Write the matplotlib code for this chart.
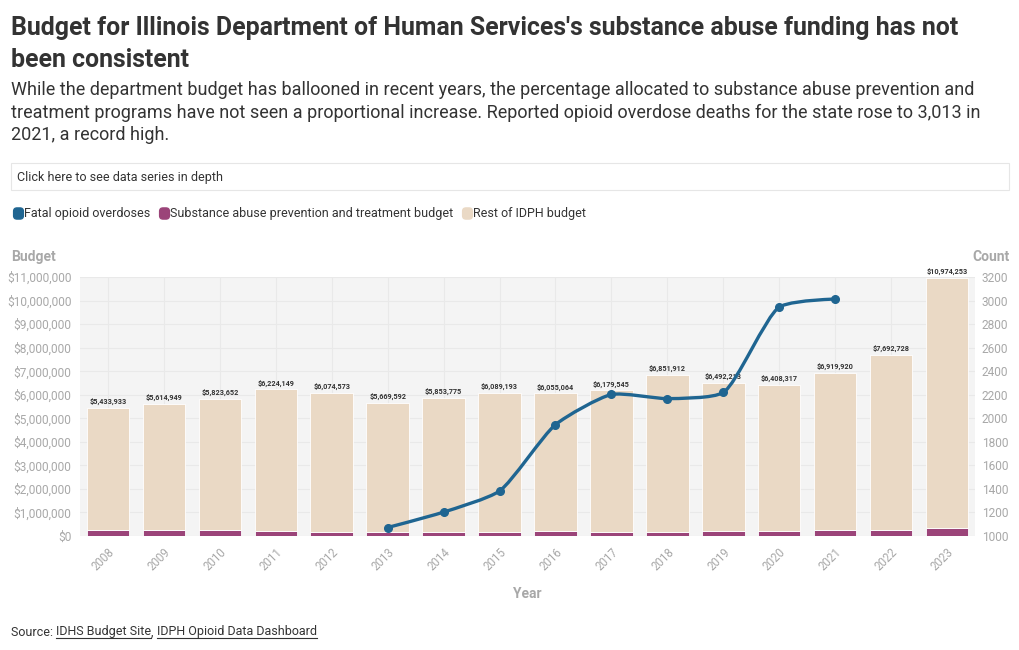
import matplotlib
matplotlib.use("Agg")
import matplotlib.pyplot as plt
from matplotlib.path import Path
from matplotlib.patches import PathPatch, FancyBboxPatch
from matplotlib.lines import Line2D
import numpy as np

plt.rcParams['font.family'] = ['Roboto', 'DejaVu Sans']

# data
years = [2008, 2009, 2010, 2011, 2012, 2013, 2014, 2015,
         2016, 2017, 2018, 2019, 2020, 2021, 2022, 2023]
total_budget = [5433933, 5614949, 5823652, 6224149, 6074573, 5669592, 5853775, 6089193,
                6055064, 6179545, 6851912, 6492213, 6408317, 6919920, 7692728, 10974253]
substance_budget = [265000, 262000, 262000, 215000, 160000, 185000, 175000, 175000,
                    212000, 172000, 185000, 198000, 198000, 240000, 255000, 355000]
rest_budget = [t - s for t, s in zip(total_budget, substance_budget)]

od_years = [2013, 2014, 2015, 2016, 2017, 2018, 2019, 2020, 2021]
overdoses = [1072, 1203, 1382, 1946, 2202, 2167, 2219, 2944, 3013]

BLUE = '#1f6591'
PURPLE = '#9b4479'
BEIGE = '#ead9c5'
GRAY = '#a8a8a8'
DARK = '#333333'
SMOOTHING = 0.6


def tangent(prev, this, nxt, smooth):
    # plotly style spline control points (pixel space)
    d1 = prev - this
    d2 = nxt - this
    d1a = np.hypot(*d1) ** 0.5
    d2a = np.hypot(*d2) ** 0.5
    num = (d2a * d2a * d1 - d1a * d1a * d2) * smooth
    den1 = 3 * d2a * (d1a + d2a)
    den2 = 3 * d1a * (d1a + d2a)
    return this + num / den1, this - num / den2


def spline_path(pts, smooth):
    n = len(pts)
    tans = [tangent(pts[i - 1], pts[i], pts[i + 1], smooth) for i in range(1, n - 1)]
    verts = [pts[0], tans[0][0], pts[1]]
    codes = [Path.MOVETO, Path.CURVE3, Path.CURVE3]
    for i in range(2, n - 1):
        verts += [tans[i - 2][1], tans[i - 1][0], pts[i]]
        codes += [Path.CURVE4] * 3
    verts += [tans[n - 3][1], pts[n - 1]]
    codes += [Path.CURVE3] * 2
    return Path(verts, codes)


def rounded_marker(w=0.88, h=1.0, r=0.3):
    # small rounded rectangle used for the legend keys
    x0, x1, y0, y1 = -w / 2, w / 2, -h / 2, h / 2
    verts = [(x0 + r, y0), (x1 - r, y0), (x1, y0), (x1, y0 + r), (x1, y1 - r), (x1, y1),
             (x1 - r, y1), (x0 + r, y1), (x0, y1), (x0, y1 - r), (x0, y0 + r), (x0, y0),
             (x0 + r, y0), (x0 + r, y0)]
    codes = [Path.MOVETO, Path.LINETO, Path.CURVE3, Path.CURVE3, Path.LINETO, Path.CURVE3,
             Path.CURVE3, Path.LINETO, Path.CURVE3, Path.CURVE3, Path.LINETO, Path.CURVE3,
             Path.CURVE3, Path.CLOSEPOLY]
    return Path(verts, codes)


fig = plt.figure(figsize=(10.2, 6.5), dpi=100)
W, H = 1020, 650
ax = fig.add_axes([80 / W, (H - 536) / H, 895 / W, 259 / H])
ax.set_facecolor('#f4f4f4')

x = list(range(len(years)))
ax.bar(x, substance_budget, width=0.76, color=PURPLE, edgecolor='white', linewidth=0.6, zorder=2)
ax.bar(x, rest_budget, width=0.76, bottom=substance_budget, color=BEIGE,
       edgecolor='white', linewidth=0.6, zorder=2)
for xi, t in zip(x, total_budget):
    ax.text(xi, t + 90000, f'${t:,}', ha='center', va='bottom', fontsize=5.2,
            fontweight='bold', color=DARK, zorder=3)

ax.set_xlim(-0.5, len(years) - 0.5)
ax.set_ylim(0, 11000000)
ax.set_yticks(range(0, 11000001, 1000000))
ax.set_yticklabels([f'${v:,}' for v in range(0, 11000001, 1000000)])
ax.set_xticks(x)
ax.set_xticklabels([str(y) for y in years], rotation=45, ha='right', rotation_mode='anchor')
ax.grid(True, color='#e9e9e9', linewidth=0.8, zorder=0)
ax.set_axisbelow(True)
ax.tick_params(colors=GRAY, labelsize=8.6, length=0, pad=6)
ax.tick_params(axis='x', labelsize=8.3, pad=7)
for s in ax.spines.values():
    s.set_visible(False)
ax.set_xlabel('Year', color=GRAY, fontsize=10, fontweight='bold', labelpad=10)

ax2 = ax.twinx()
ax2.set_ylim(1000, 3200)
ax2.set_yticks(range(1000, 3201, 200))
ax2.tick_params(colors=GRAY, labelsize=8.6, length=0, pad=5)
for s in ax2.spines.values():
    s.set_visible(False)
od_x = [years.index(y) for y in od_years]

# build the smooth line in pixel space, then map the control points back to data
fig.canvas.draw()
pix = ax2.transData.transform(np.column_stack([od_x, overdoses]))
pp = spline_path(list(pix), SMOOTHING)
data_verts = ax2.transData.inverted().transform(pp.vertices)
ax2.add_patch(PathPatch(Path(data_verts, pp.codes), facecolor='none', edgecolor=BLUE,
                        linewidth=2.4, zorder=4))
ax2.plot(od_x, overdoses, 'o', color=BLUE, markersize=5.5, zorder=5)

# axis titles
fig.text(11 / W, 1 - 257 / H, 'Budget', color=GRAY, fontsize=10, fontweight='bold', va='center')
fig.text(1010 / W, 1 - 257 / H, 'Count', color=GRAY, fontsize=10, fontweight='bold',
         va='center', ha='right')

# header
fig.text(11 / W, 1 - 28 / H, "Budget for Illinois Department of Human Services's substance abuse funding has not",
         fontsize=17.9, fontweight='bold', color=DARK, va='center')
fig.text(11 / W, 1 - 60 / H, 'been consistent', fontsize=17.9, fontweight='bold', color=DARK, va='center')
sub = ['While the department budget has ballooned in recent years, the percentage allocated to substance abuse prevention and',
       'treatment programs have not seen a proportional increase. Reported opioid overdose deaths for the state rose to 3,013 in',
       '2021, a record high.']
for i, line in enumerate(sub):
    fig.text(11 / W, 1 - (90 + 22.5 * i) / H, line, fontsize=13.0, color=DARK, va='center')

box = FancyBboxPatch((11 / W, 1 - 190 / H), 998 / W, 27 / H, boxstyle='square,pad=0',
                     transform=fig.transFigure, facecolor='white', edgecolor='#e6e6e6', linewidth=0.8)
fig.patches.append(box)
fig.text(17 / W, 1 - 177 / H, 'Click here to see data series in depth', fontsize=9,
         color=DARK, va='center')

# legend
legend_items = [('Fatal opioid overdoses', BLUE), ('Substance abuse prevention and treatment budget', PURPLE),
                ('Rest of IDPH budget', BEIGE)]
key = rounded_marker()
handles = [Line2D([], [], marker=key, linestyle='none', markersize=8, color=c, label=l)
           for l, c in legend_items]
fig.legend(handles=handles, loc='center left', bbox_to_anchor=(0 / W, 1 - 214 / H), ncol=3,
           frameon=False, fontsize=9, handletextpad=0.0, columnspacing=0.6, handlelength=1.0,
           labelcolor=DARK)

# source line with underlined links
renderer = fig.canvas.get_renderer()
xpos = 11
ypos = 1 - 632 / H
for piece, underline in [('Source: ', False), ('IDHS Budget Site', True), (', ', False),
                         ('IDPH Opioid Data Dashboard', True)]:
    t = fig.text(xpos / W, ypos, piece, fontsize=9, color=DARK, va='center')
    bb = t.get_window_extent(renderer)
    if underline:
        fig.add_artist(Line2D([bb.x0 / W, bb.x1 / W], [(bb.y0 + 1) / H, (bb.y0 + 1) / H],
                              color=DARK, linewidth=0.8, transform=fig.transFigure))
    xpos = bb.x1

fig.savefig('out.png', dpi=100)
